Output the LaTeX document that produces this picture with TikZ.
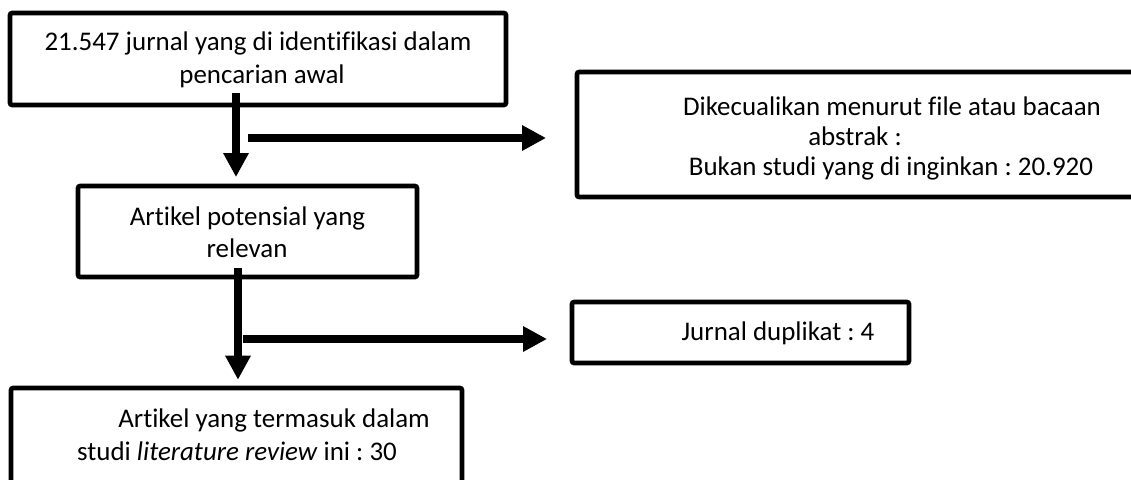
\documentclass[tikz,border=0pt]{standalone}
\usepackage{fontspec}
\setmainfont{Carlito}[Ligatures={NoCommon}]
\usetikzlibrary{arrows.meta,calc,fit}
\frenchspacing
\begin{document}
\begin{tikzpicture}[x=0.75pt,y=-0.75pt,
  box/.style={draw=black, line width=3.4pt, rounded corners=1.5pt, inner sep=0pt},
  txt/.style={font=\fontsize{20.2}{24}\selectfont, inner sep=0pt, anchor=base},
  flow/.style={line width=6pt, -{Triangle[length=18pt,width=18pt]}},
]
\clip (0,0) rectangle (1131,479);
\fill[white] (0,0) rectangle (1131,479);

% boxes
\node[box, fit={(10,13) (506,105)}] (b1) {};
\node[box, fit={(78,186) (417,277)}] (b2) {};
\node[box, fit={(577,72) (1145,197)}] (b3) {};
\node[box, fit={(572,302) (909,363)}] (b5) {};
\node[box, fit={(11,388) (462,500)}] (b4) {};

% texts, one node per printed line
\node[txt] (t1a) at (258,50) {21.547 jurnal yang di identifikasi dalam};
\node[txt] (t1b) at (262,83) {pencarian awal};
\node[txt] (t2a) at (247.5,225) {Artikel potensial yang};
\node[txt] (t2b) at (247,257) {relevan};
\node[txt] (t3a) at (892,115) {Dikecualikan menurut file atau bacaan};
\node[txt] (t3b) at (855,145) {abstrak :};
\node[txt] (t3c) at (891,175) {Bukan studi yang di inginkan : 20.920};
\node[txt] (t5) at (778,340) {Jurnal duplikat : 4};
\node[txt] (t4a) at (274,427) {Artikel yang termasuk dalam};
\node[txt] (t4b) at (237,460) {studi \textit{literature review} ini : 30};

% connectors
\coordinate (s1) at (236,93);
\coordinate (h1) at (248,138);
\coordinate (s2) at (238,268);
\coordinate (h2) at (243,339);
\draw[flow, shorten >=5pt] (s1) -- (s1 |- b2.north);
\draw[flow, shorten >=21.5pt] (h1) -- (h1 -| b3.west);
\draw[flow, shorten >=4.5pt] (s2) -- (s2 |- b4.north);
\draw[flow, shorten >=17pt] (h2) -- (h2 -| b5.west);
\end{tikzpicture}
\end{document}
